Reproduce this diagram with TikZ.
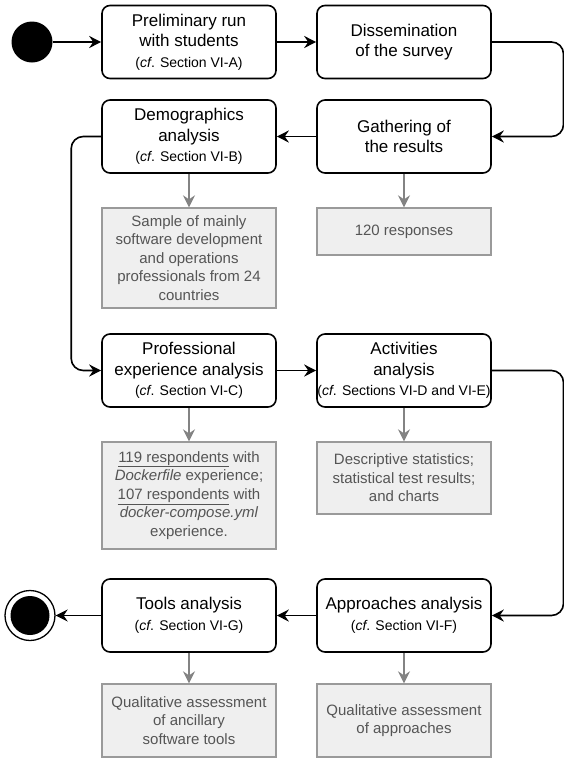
\documentclass[tikz,border=0pt]{standalone}
\usepackage{fontspec}
\setmainfont{Liberation Sans}
\usetikzlibrary{arrows.meta}

\definecolor{notegray}{HTML}{9A9A9A}
\definecolor{notefill}{HTML}{EFEFEF}
\definecolor{notetext}{HTML}{555555}

%linea pequena con la referencia a la seccion
\newcommand{\cfsec}[1]{{\fontsize{14}{18}\selectfont(\textit{cf}. #1)}}

\tikzset{
  stage/.style={draw, line width=1.6pt, rounded corners=8pt, minimum width=174pt,
    minimum height=73pt, align=center, inner xsep=0pt, inner ysep=1pt,
    font=\fontsize{17}{20.5}\selectfont},
  note/.style={draw=notegray, fill=notefill, line width=1.3pt, minimum width=174pt,
    align=center, inner sep=2pt, text=notetext,
    font=\fontsize{15}{18.6}\selectfont},
  flow/.style={line width=1.6pt, -{Stealth[length=12pt,width=12pt,inset=4pt]}},
  result/.style={line width=1.6pt, draw=notegray!85!black,
    -{Stealth[length=12pt,width=12pt,inset=4pt,fill=notegray!85!black]}}
}

\begin{document}
\begin{tikzpicture}[x=1pt,y=-1pt]
\useasboundingbox (0,0) rectangle (563,758);

%inicio y fin
\node[circle, fill=black, minimum size=41pt, inner sep=0pt] (start) at (32,42) {};
\node[circle, draw, line width=1.3pt, minimum size=50pt, inner sep=0pt] (finish) at (30,615.5) {};
\node[circle, fill=black, minimum size=39pt, inner sep=0pt] (finishdot) at (finish) {};

%primera fila
\node[stage] (prelim) at (189,42) {Preliminary run\\with students\\\cfsec{Section VI-A}};
\node[stage] (dissem) at (404,42) {Dissemination\\of the survey};

%segunda fila
\node[stage] (demo) at (189,136.5) {Demographics\\analysis\\\cfsec{Section VI-B}};
\node[stage] (gather) at (404,136.5) {Gathering of\\the results};
\node[note, minimum height=100pt] (sample) at (189,258) {Sample of mainly\\software development\\and operations\\professionals from 24\\countries};
\node[note, minimum height=47pt] (responses) at (404,231.5) {120 responses};

%tercera fila
\node[stage] (prof) at (189,370.5) {Professional\\experience analysis\\\cfsec{Section VI-C}};
\node[stage] (activ) at (404,370.5) {Activities\\analysis\\\cfsec{Sections VI-D and VI-E}};
\node[note, minimum height=107pt] (exper) at (189,495.5) {\underline{119 respondents} with\\\textit{Dockerfile} experience;\\\underline{107 respondents} with\\\textit{docker-compose.yml}\\experience.};
\node[note, minimum height=72pt] (stats) at (404,478) {Descriptive statistics;\\statistical test results;\\and charts};

%cuarta fila
\node[stage] (tools) at (189,615.5) {Tools analysis\\\cfsec{Section VI-G}};
\node[stage] (approach) at (404,615.5) {Approaches analysis\\\cfsec{Section VI-F}};
\node[note, minimum height=73pt] (toolsnote) at (189,720.5) {Qualitative assessment\\of ancillary\\software tools};
\node[note, minimum height=73pt] (approachnote) at (404,720.5) {Qualitative assessment\\of approaches};

%borde derecho para las vueltas
\coordinate (rim) at (563.5,0);

%flechas del flujo
\draw[flow] (start) -- (prelim);
\draw[flow] (prelim) -- (dissem);
\draw[flow, rounded corners=12pt] (dissem.east) -- (dissem.east -| rim) -- (gather.east -| rim) -- (gather.east);
\draw[flow] (gather) -- (demo);
\draw[flow, rounded corners=12pt] (demo.west) -- ++(-30,0) |- (prof.west);
\draw[flow] (prof) -- (activ);
\draw[flow, rounded corners=12pt] (activ.east) -- (activ.east -| rim) -- (approach.east -| rim) -- (approach.east);
\draw[flow] (approach) -- (tools);
\draw[flow] (tools) -- (finish);

%flechas a los resultados
\draw[result] (demo) -- (sample);
\draw[result] (gather) -- (responses);
\draw[result] (prof) -- (exper);
\draw[result] (activ) -- (stats);
\draw[result] (tools) -- (toolsnote);
\draw[result] (approach) -- (approachnote);
\end{tikzpicture}
\end{document}
